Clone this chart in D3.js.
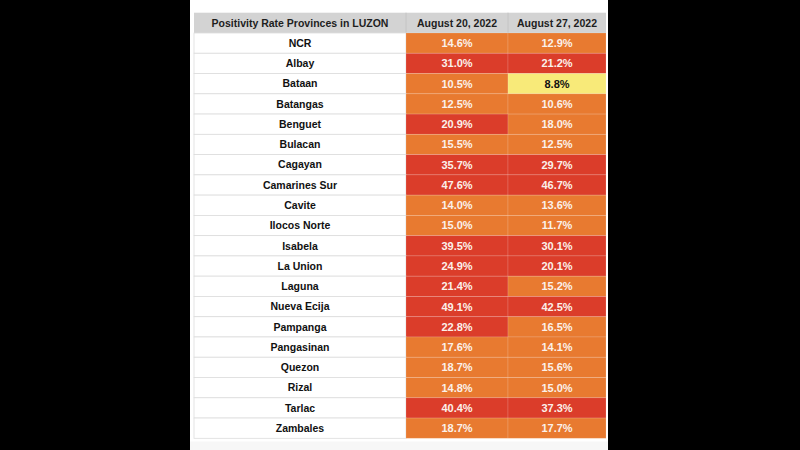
<!DOCTYPE html>
<html>
<head>
<meta charset="utf-8">
<script src="https://cdn.jsdelivr.net/npm/d3@7/dist/d3.min.js"></script>
<style>
  html, body { margin: 0; padding: 0; background: #000; }
  svg { display: block; }
</style>
</head>
<body>
<svg id="chart" width="800" height="450"></svg>
<script>
// ---- data ----
const headerLabels = ["Positivity Rate Provinces in LUZON", "August 20, 2022", "August 27, 2022"];
const provinces = ["NCR", "Albay", "Bataan", "Batangas", "Benguet", "Bulacan", "Cagayan", "Camarines Sur",
  "Cavite", "Ilocos Norte", "Isabela", "La Union", "Laguna", "Nueva Ecija", "Pampanga", "Pangasinan",
  "Quezon", "Rizal", "Tarlac", "Zambales"];
const aug20 = [14.6, 31.0, 10.5, 12.5, 20.9, 15.5, 35.7, 47.6, 14.0, 15.0, 39.5, 24.9, 21.4, 49.1, 22.8, 17.6, 18.7, 14.8, 40.4, 18.7];
const aug27 = [12.9, 21.2, 8.8, 10.6, 18.0, 12.5, 29.7, 46.7, 13.6, 11.7, 30.1, 20.1, 15.2, 42.5, 16.5, 14.1, 15.6, 15.0, 37.3, 17.7];
const thresholds = [10, 20];
const rateColors = ["#F8EA79", "#E87A30", "#DB3D2A"];

// ---- layout ----
const svg = d3.select("#chart");
const colKeys = ["name", "d1", "d2"];
const colEdges = [194, 406, 508, 606];
const xLeft = d3.scaleOrdinal().domain(colKeys).range(colEdges.slice(0, 3));
const xWidth = d3.scaleOrdinal().domain(colKeys).range([colEdges[1] - colEdges[0], colEdges[2] - colEdges[1], colEdges[3] - colEdges[2]]);
const tableTop = 12.7, headerBottom = 33, tableBottom = 438.3;
const y = d3.scaleBand().domain(provinces).range([headerBottom, tableBottom]);
const color = d3.scaleThreshold().domain(thresholds).range(rateColors);

// white panel
svg.append("rect").attr("x", 190).attr("y", 0).attr("width", 418).attr("height", 450).attr("fill", "#fff");
svg.append("rect").attr("x", 190).attr("y", 441.5).attr("width", 418).attr("height", 8.5).attr("fill", "#f7f7f7");

// header
const hdr = svg.append("g");
hdr.append("rect").attr("x", colEdges[0]).attr("y", tableTop).attr("width", colEdges[3] - colEdges[0])
  .attr("height", headerBottom - tableTop).attr("fill", "#D3D3D3");
hdr.selectAll("line.hsep").data(colKeys.slice(1)).join("line")
  .attr("x1", d => xLeft(d)).attr("x2", d => xLeft(d)).attr("y1", tableTop).attr("y2", headerBottom)
  .attr("stroke", "#c4c4c4").attr("stroke-width", 1);
hdr.selectAll("text").data(colKeys).join("text")
  .attr("x", d => xLeft(d) + xWidth(d) / 2)
  .attr("y", (tableTop + headerBottom) / 2)
  .attr("dy", "0.35em")
  .attr("text-anchor", "middle")
  .attr("font-family", "Liberation Sans, Arial, sans-serif")
  .attr("font-weight", "bold")
  .attr("font-size", 10.5)
  .attr("fill", "#1e1e1e")
  .text((d, i) => headerLabels[i]);

// rows
const rows = provinces.map((p, i) => ({ name: p, d1: aug20[i], d2: aug27[i] }));
const rowG = svg.append("g").selectAll("g").data(rows).join("g")
  .attr("transform", d => `translate(0,${y(d.name)})`);

// name cells
rowG.append("rect").attr("x", xLeft("name")).attr("width", xWidth("name")).attr("height", y.bandwidth())
  .attr("fill", "#fff").attr("stroke", "#dcdcdc").attr("stroke-width", 0.8);
rowG.append("text")
  .attr("x", xLeft("name") + xWidth("name") / 2)
  .attr("y", y.bandwidth() / 2).attr("dy", "0.36em")
  .attr("text-anchor", "middle")
  .attr("font-family", "Liberation Sans, Arial, sans-serif")
  .attr("font-weight", "bold").attr("font-size", 10.5).attr("fill", "#111")
  .text(d => d.name);

// value cells
["d1", "d2"].forEach(k => {
  rowG.append("rect").attr("x", xLeft(k)).attr("width", xWidth(k)).attr("height", y.bandwidth())
    .attr("fill", d => color(d[k]))
    .attr("stroke", "rgba(255,255,255,0.18)").attr("stroke-width", 0.8);
  rowG.append("text")
    .attr("x", xLeft(k) + xWidth(k) / 2)
    .attr("y", y.bandwidth() / 2).attr("dy", "0.36em")
    .attr("text-anchor", "middle")
    .attr("font-family", "Liberation Sans, Arial, sans-serif")
    .attr("font-weight", "bold").attr("font-size", 11)
    .attr("fill", d => d[k] < thresholds[0] ? "#111" : "#fbf1ea")
    .text(d => d[k].toFixed(1) + "%");
});
</script>
</body>
</html>
